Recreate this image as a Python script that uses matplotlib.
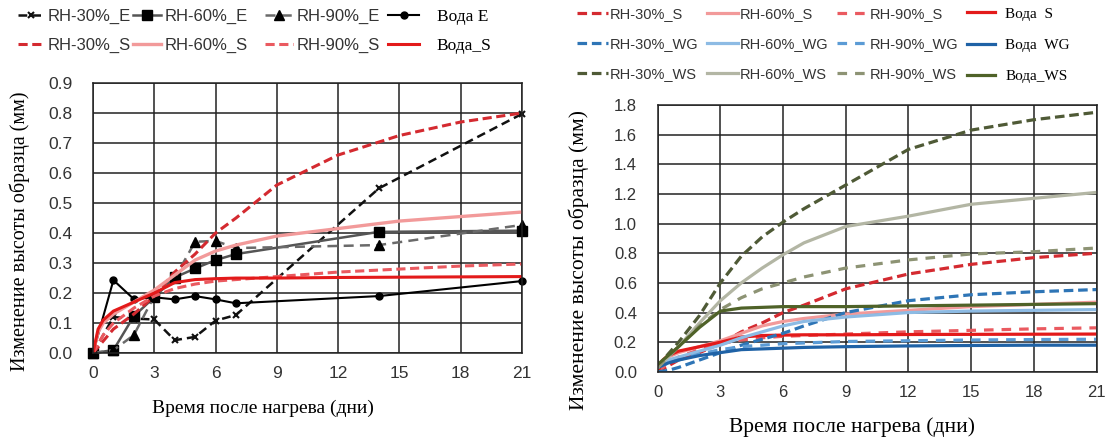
import matplotlib
matplotlib.use('Agg')
import matplotlib.pyplot as plt

plt.rcParams['font.family'] = 'Liberation Sans'
serif = 'Liberation Serif'

# left chart: measured points (days)
t_e = [0, 1, 2, 3, 4, 5, 6, 7, 14, 21]
rh30_e = [0, 0.12, 0.115, 0.112, 0.043, 0.054, 0.108, 0.127, 0.549, 0.797]
rh60_e = [0, 0.01, 0.123, 0.186, 0.252, 0.282, 0.31, 0.33, 0.404, 0.408]
rh90_e = [0, 0.01, 0.06, 0.19, 0.25, 0.371, 0.374, 0.35, 0.36, 0.427]
water_e = [0, 0.243, 0.18, 0.186, 0.179, 0.19, 0.179, 0.166, 0.19, 0.24]

# S curves
t_s = [0, 0.25, 0.5, 1, 2, 3, 4, 5, 6, 7, 9, 12, 15, 18, 21]
rh30_s = [0, 0.02, 0.04, 0.08, 0.13, 0.19, 0.27, 0.33, 0.40, 0.45, 0.56, 0.66, 0.725, 0.77, 0.80]
rh60_s = [0, 0.07, 0.10, 0.13, 0.17, 0.21, 0.26, 0.31, 0.34, 0.36, 0.39, 0.415, 0.44, 0.455, 0.47]
rh90_s = [0, 0.03, 0.06, 0.10, 0.15, 0.19, 0.215, 0.23, 0.24, 0.245, 0.255, 0.27, 0.28, 0.29, 0.297]
water_s = [0, 0.08, 0.11, 0.14, 0.17, 0.20, 0.235, 0.245, 0.248, 0.25, 0.25, 0.252, 0.253, 0.254, 0.255]

# WG / WS curves (right chart)
t_w = [0, 0.5, 1, 2, 3, 4, 5, 6, 7, 9, 12, 15, 18, 21]
rh30_wg = [0.0, 0.01, 0.03, 0.08, 0.13, 0.18, 0.22, 0.26, 0.31, 0.40, 0.48, 0.52, 0.54, 0.555]
rh60_wg = [0.05, 0.08, 0.10, 0.14, 0.18, 0.23, 0.27, 0.31, 0.34, 0.37, 0.40, 0.41, 0.415, 0.42]
rh90_wg = [0.03, 0.06, 0.08, 0.12, 0.15, 0.17, 0.18, 0.19, 0.195, 0.205, 0.21, 0.215, 0.218, 0.22]
water_wg = [0.03, 0.06, 0.08, 0.11, 0.13, 0.15, 0.155, 0.16, 0.165, 0.17, 0.175, 0.178, 0.18, 0.18]
rh30_ws = [0.03, 0.12, 0.2, 0.38, 0.60, 0.78, 0.91, 1.01, 1.10, 1.26, 1.50, 1.63, 1.70, 1.75]
rh60_ws = [0.03, 0.10, 0.17, 0.33, 0.48, 0.60, 0.70, 0.79, 0.87, 0.98, 1.05, 1.13, 1.17, 1.21]
rh90_ws = [0.03, 0.10, 0.17, 0.31, 0.42, 0.50, 0.56, 0.60, 0.64, 0.70, 0.755, 0.795, 0.81, 0.835]
water_ws = [0.05, 0.11, 0.17, 0.30, 0.41, 0.43, 0.435, 0.44, 0.44, 0.44, 0.445, 0.45, 0.455, 0.46]

xticks = list(range(0, 22, 3))
ylabel = 'Изменение высоты образца (мм)'
xlabel = 'Время после нагрева (дни)'

c30s, c60s, c90s, cws = '#d42a30', '#f29a9a', '#ea5a60', '#e31a1a'
c30g, c60g, c90g, cwg = '#2e75b6', '#8dbbe4', '#5b9bd5', '#1f62a6'
c30w, c60w, c90w, cww = '#4f5a36', '#b3b6a4', '#8d9374', '#4f6228'

W, H = 1111, 437
fig = plt.figure(figsize=(W / 100, H / 100), dpi=100)
ax1 = fig.add_axes([0.0837, 0.192, 0.386, 0.618])
ax2 = fig.add_axes([0.592, 0.149, 0.395, 0.611])

def style(ax, ymax, step, fs):
    ax.set_xlim(0, 21)
    ax.set_ylim(0, ymax)
    ax.set_xticks(xticks)
    n = int(round(ymax / step))
    ax.set_yticks([i * step for i in range(n + 1)])
    ax.yaxis.set_major_formatter(matplotlib.ticker.FormatStrFormatter('%.1f'))
    ax.grid(True, color='#222222', lw=1.1)
    ax.set_axisbelow(True)
    for s in ax.spines.values():
        s.set_color('#222222')
        s.set_linewidth(1.1)
    ax.tick_params(length=0, labelsize=fs, colors='#333333')
    ax.tick_params(axis='y', pad=15)
    ax.tick_params(axis='x', pad=9.5)

style(ax1, 0.9, 0.1, 12.5)
style(ax2, 1.8, 0.2, 12)

def col_legend(handles, labels, x, y, fs, ls, hl, pad, water=False):
    lg = fig.legend(handles, labels, loc='upper left', bbox_to_anchor=(x / W, 1 - y / H),
                    frameon=False, fontsize=fs, handlelength=hl, handletextpad=pad,
                    labelspacing=ls, borderpad=0, borderaxespad=0)
    for t in lg.get_texts():
        if water:
            t.set_fontfamily(serif)
            t.set_color('black')
        else:
            t.set_color('#333333')
    return lg

# left chart
e30, = ax1.plot(t_e, rh30_e, color='#111111', ls=(0, (3.5, 2)), lw=1.8, marker='x', ms=5, mew=1.5, clip_on=False)
e60, = ax1.plot(t_e, rh60_e, color='#555555', lw=1.8, marker='s', ms=7, mfc='black', mec='black', clip_on=False)
e90, = ax1.plot(t_e, rh90_e, color='#6a6a6a', ls=(0, (4, 2.5)), lw=1.8, marker='^', ms=7, mfc='black', mec='black', clip_on=False)
ew, = ax1.plot(t_e, water_e, color='black', lw=1.5, marker='o', ms=5, clip_on=False)
s30, = ax1.plot(t_s, rh30_s, color=c30s, ls=(0, (3, 1.5)), lw=2.2)
s60, = ax1.plot(t_s, rh60_s, color=c60s, lw=2.4)
s90, = ax1.plot(t_s, rh90_s, color=c90s, ls=(0, (3, 1.5)), lw=2.2)
sw, = ax1.plot(t_s, water_s, color=cws, lw=2.2)

col_legend([e30, s30], ['RH-30%_E', 'RH-30%_S'], 18, 9, 12, 0.85, 1.6, 0.2)
col_legend([e60, s60], ['RH-60%_E', 'RH-60%_S'], 133, 9, 12, 0.85, 1.7, 0.2)
col_legend([e90, s90], ['RH-90%_E', 'RH-90%_S'], 265, 9, 12, 0.85, 1.7, 0.2)
col_legend([ew, sw], ['Вода E', 'Вода_S'], 388, 9, 12.5, 0.75, 1.8, 1.0, water=True)

# right chart
series = [
    (t_s, rh30_s, c30s, (0, (3, 1.5)), 'RH-30%_S'),
    (t_s, rh60_s, c60s, '-', 'RH-60%_S'),
    (t_s, rh90_s, c90s, (0, (3, 2.5)), 'RH-90%_S'),
    (t_s, water_s, cws, '-', 'Вода  S'),
    (t_w, rh30_wg, c30g, (0, (3, 1.5)), 'RH-30%_WG'),
    (t_w, rh60_wg, c60g, '-', 'RH-60%_WG'),
    (t_w, rh90_wg, c90g, (0, (3, 2.5)), 'RH-90%_WG'),
    (t_w, water_wg, cwg, '-', 'Вода  WG'),
    (t_w, rh30_ws, c30w, (0, (3, 1.5)), 'RH-30%_WS'),
    (t_w, rh60_ws, c60w, '-', 'RH-60%_WS'),
    (t_w, rh90_ws, c90w, (0, (3, 2.5)), 'RH-90%_WS'),
    (t_w, water_ws, cww, '-', 'Вода_WS'),
]
lines = []
for x, y, c, ls, lab in series:
    ln, = ax2.plot(x, y, color=c, ls=ls, lw=2.3)
    lines.append(ln)

col_x = [577, 707, 837, 967]
for col in range(4):
    idx = [row * 4 + col for row in range(3)]
    if col < 3:
        col_legend([lines[i] for i in idx], [series[i][4] for i in idx], col_x[col], 7,
                   10.5, 1.1, 2.1, 0.15)
    else:
        col_legend([lines[i] for i in idx], [series[i][4] for i in idx], col_x[col], 7,
                   11, 1.15, 1.8, 0.7, water=True)

ax1.set_ylabel(ylabel, fontfamily=serif, fontsize=14.5, va='center')
ax1.yaxis.set_label_coords(-0.17, 0.452)
ax1.set_xlabel(xlabel, fontfamily=serif, fontsize=14, va='center')
ax1.xaxis.set_label_coords(0.396, -0.204)

ax2.set_ylabel(ylabel, fontfamily=serif, fontsize=15.5, va='center')
ax2.yaxis.set_label_coords(-0.18, 0.42)
ax2.set_xlabel(xlabel, fontfamily=serif, fontsize=15.5, va='center')
ax2.xaxis.set_label_coords(0.442, -0.206)

fig.savefig('out.png', dpi=100)
